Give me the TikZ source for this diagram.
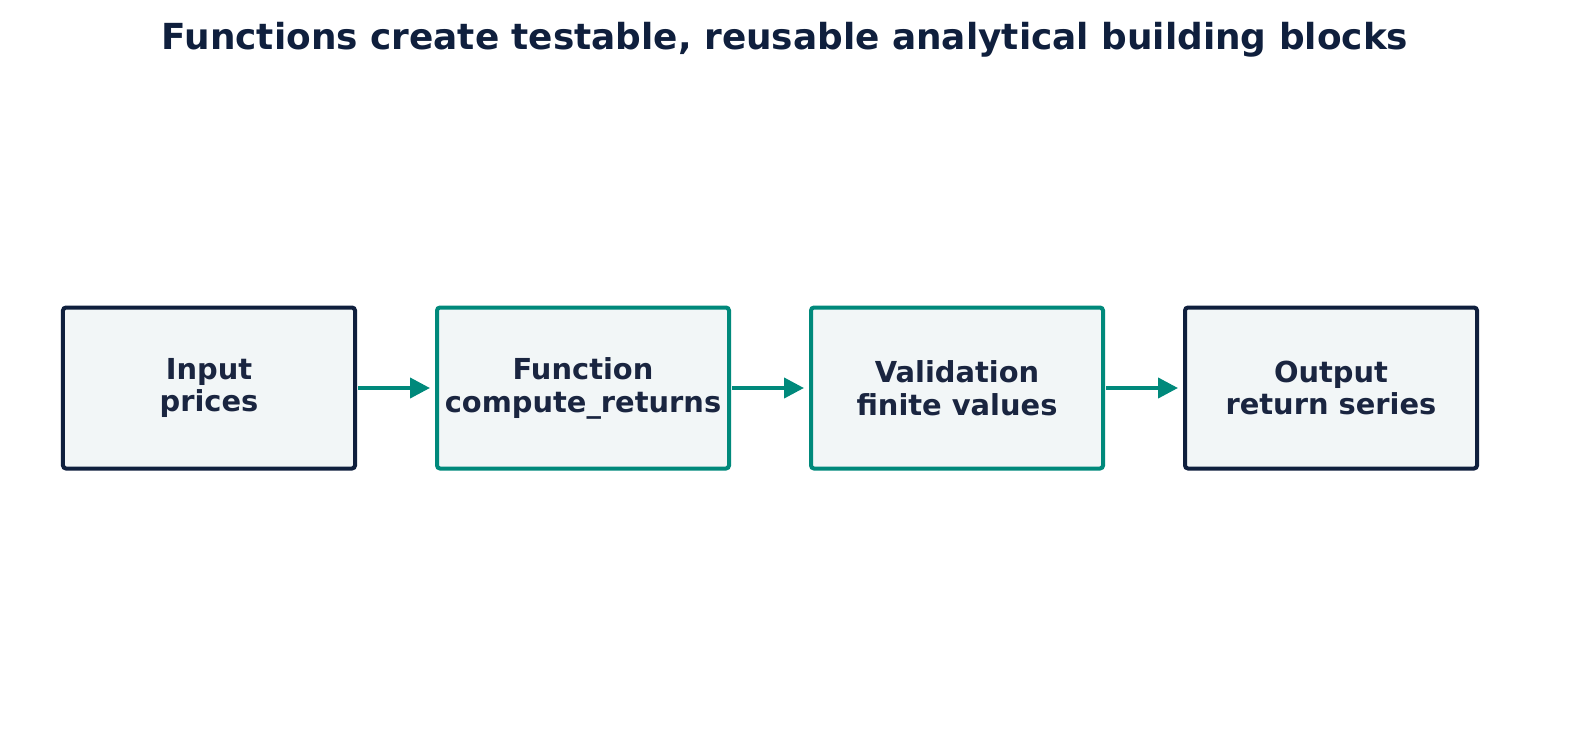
\documentclass[tikz,border=0pt]{standalone}
\usepackage{fontspec}
\setmainfont{DejaVu Sans}
\usetikzlibrary{arrows.meta,positioning}
\definecolor{navyline}{HTML}{0F1F3D}
\definecolor{tealline}{HTML}{00897B}
\definecolor{boxfill}{HTML}{F2F6F7}
\definecolor{textdark}{HTML}{1A2540}

\begin{document}
\begin{tikzpicture}[
        x=1bp, y=1bp,
        box/.style={rectangle, draw, line width=4bp, rounded corners=3bp, fill=boxfill, minimum width=292bp, minimum height=161bp, align=center, font=\fontsize{29}{33}\selectfont\bfseries, text=textdark},
        arrow/.style={-{Triangle[length=20bp,width=20bp]}, line width=4bp, draw=tealline, shorten >=5bp, shorten <=1bp}
    ]
        \useasboundingbox (0,0) rectangle (1578,-735);

        % Title
        \node[font=\fontsize{36}{40}\selectfont\bfseries, text=navyline] (title) at (785,-40) {Functions create testable, reusable analytical building blocks};

        % Boxes
        \node[box, draw=navyline] (input) at (209,-388) {Input\\prices};
        \node[box, draw=tealline] (func) at (583,-388) {Function\\compute\_returns};
        \node[box, draw=tealline] (valid) at (957,-388) {Validation\\finite values};
        \node[box, draw=navyline] (output) at (1331,-388) {Output\\return series};

        % Arrows
        \draw[arrow] (input) -- (func);
        \draw[arrow] (func) -- (valid);
        \draw[arrow] (valid) -- (output);
    \end{tikzpicture}
\end{document}
